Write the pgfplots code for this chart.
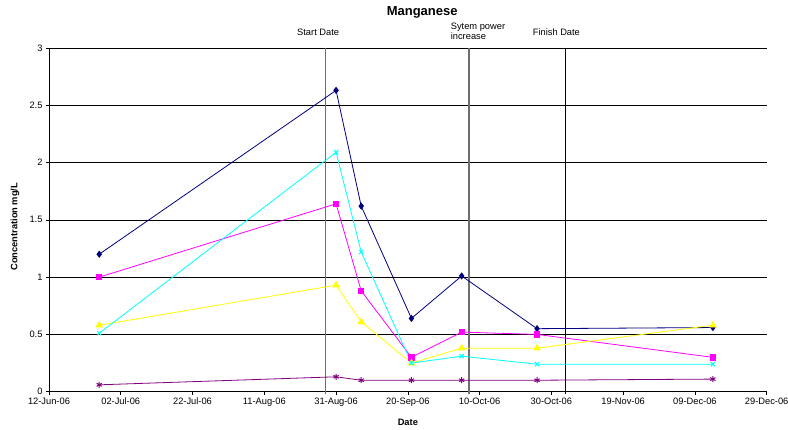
\documentclass[border=0pt]{standalone}
\usepackage{fontspec}
\setmainfont{Liberation Sans}
\usepackage{pgfplots}
\pgfplotsset{compat=1.18}

\definecolor{navyline}{HTML}{000080}
\definecolor{magline}{HTML}{FF00FF}
\definecolor{yelline}{HTML}{FFFF00}
\definecolor{cyanline}{HTML}{00FFFF}
\definecolor{purpline}{HTML}{800080}
\definecolor{eventgray}{HTML}{6E6E6E}

% Day numbers are counted from 12-Jun-06 (day 0).
\begin{document}
\begin{tikzpicture}
\path[use as bounding box] (-49pt,-38.3pt) rectangle (739pt,391.7pt);
\begin{axis}[
  at={(0,0)}, anchor=south west,
  scale only axis, width=717.7pt, height=343.7pt,
  xmin=0, xmax=200, ymin=0, ymax=3,
  axis lines*=left,
  axis line style={black, line width=0.7pt},
  tick align=outside, major tick length=3pt,
  tick style={black, line width=0.6pt},
  xtick={0,20,...,200},
  xticklabels={12-Jun-06,02-Jul-06,22-Jul-06,11-Aug-06,31-Aug-06,20-Sep-06,10-Oct-06,30-Oct-06,19-Nov-06,09-Dec-06,29-Dec-06},
  ytick={0,0.5,1,1.5,2,2.5,3},
  yticklabels={0,0.5,1,1.5,2,2.5,3},
  ymajorgrids,
  grid style={black, line width=0.6pt},
  tick label style={font=\fontsize{9.3}{11}\selectfont},
  every axis x label/.style={at={(axis description cs:0.5,0)}, yshift=-31pt, anchor=center},
  every axis y label/.style={at={(axis description cs:0,0.48)}, xshift=-34pt, rotate=90, anchor=center},
  xlabel={\fontsize{9.3}{11}\selectfont\bfseries Date},
  ylabel={\fontsize{9.3}{11}\selectfont\bfseries Concentration mg/L},
  clip=false,
]
% event markers
\addplot[color=eventgray, line width=1.6pt] coordinates {(77,-0.02) (77,3)};
\addplot[color=eventgray, line width=1.6pt] coordinates {(117,-0.02) (117,3)};
\addplot[color=black, line width=0.9pt] coordinates {(144,-0.02) (144,3)};

% sampling results
\addplot[color=navyline, line width=0.8pt, mark=diamond*, mark size=3pt, mark options={solid}]
  coordinates {(14,1.20) (80,2.63) (87,1.62) (101,0.64) (115,1.01) (136,0.55) (185,0.56)};
\addplot[color=magline, line width=0.8pt, mark=square*, mark size=2.6pt]
  coordinates {(14,1.00) (80,1.64) (87,0.88) (101,0.30) (115,0.52) (136,0.50) (185,0.30)};
\addplot[color=yelline, line width=0.8pt, mark=triangle*, mark size=3.6pt]
  coordinates {(14,0.58) (80,0.93) (87,0.61) (101,0.25) (115,0.38) (136,0.38) (185,0.58)};
\addplot[color=cyanline, line width=0.8pt, mark=x, mark size=3pt, mark options={line width=1pt}]
  coordinates {(14,0.51) (80,2.09) (87,1.22) (101,0.25) (115,0.31) (136,0.24) (185,0.24)};
\addplot[color=purpline, line width=0.8pt, mark=asterisk, mark size=3pt, mark options={line width=1pt}]
  coordinates {(14,0.06) (80,0.13) (87,0.10) (101,0.10) (115,0.10) (136,0.10) (185,0.11)};

% title and event labels
\node[font=\fontsize{13}{15}\selectfont\bfseries] at (axis cs:104,3) [yshift=36pt] {Manganese};
\node[font=\fontsize{9.3}{11}\selectfont] at (axis cs:75,3) [yshift=16pt] {Start Date};
\node[font=\fontsize{9.3}{11}\selectfont, anchor=west, align=left] at (axis cs:111,3) [yshift=16.5pt]
  {Sytem power\\[-1pt]increase};
\node[font=\fontsize{9.3}{11}\selectfont] at (axis cs:141.4,3) [yshift=16pt] {Finish Date};
\end{axis}
\end{tikzpicture}
\end{document}
